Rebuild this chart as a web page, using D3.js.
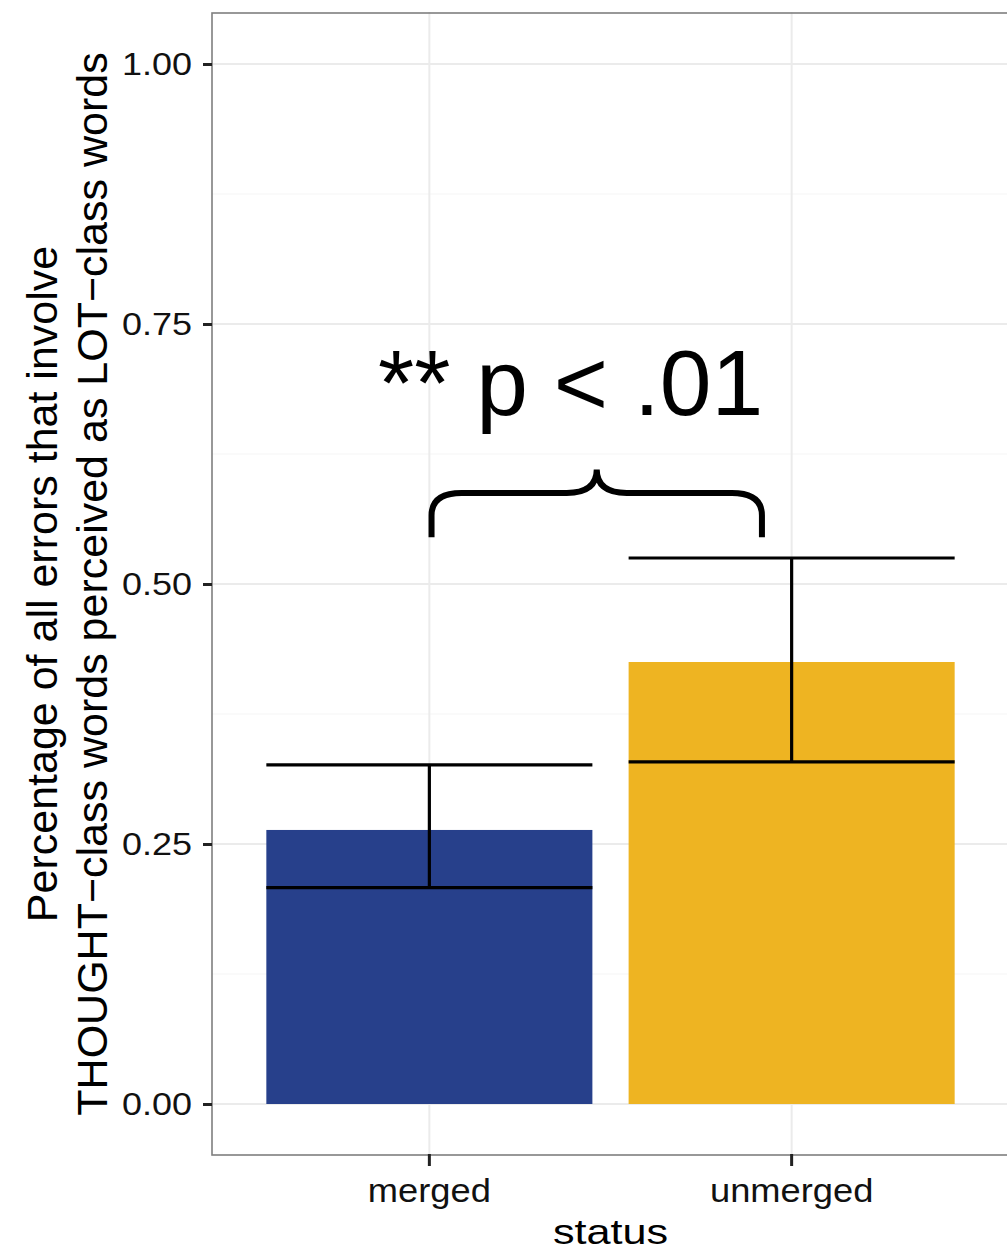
<!DOCTYPE html>
<html lang="en">
  <head>
    <meta charset="utf-8" />
    <title>THOUGHT-LOT errors by status</title>
    <script type="text/javascript" src="https://d3js.org/d3.v7.min.js"></script>
    <style>
      body { margin: 0; background: #fff; }
      text { font-family: "Liberation Sans", Arial, Helvetica, sans-serif; }
    </style>
  </head>
  <body>
    <div id="graph"></div>

    <script type="text/javascript">
      /********************************
       * data
       ********************************/

      const categories = ["merged", "unmerged"];
      const means = [0.2635, 0.425];
      const lower = [0.208, 0.329];
      const upper = [0.326, 0.525];
      const barColors = ["#27408B", "#EEB422"];
      const yTicks = [0, 0.25, 0.5, 0.75, 1];
      const yMinor = [0.125, 0.375, 0.625, 0.875];

      const data = categories.map((c, i) => ({
        status: c,
        mean: means[i],
        lo: lower[i],
        hi: upper[i],
        color: barColors[i],
      }));

      /***************************
       * create svg
       **************************/

      const width = 1007;
      const height = 1252;
      const panel = { left: 212, right: 1009, top: 12, bottom: 1156 };

      const svg = d3
        .select("div#graph")
        .append("svg")
        .attr("width", width)
        .attr("height", height);

      /****************************
       * scales
       *************************/

      const xScale = d3
        .scaleBand()
        .domain(categories)
        .range([panel.left, panel.right])
        .paddingInner(0.1)
        .paddingOuter(0.15);

      // continuous helper on the same axis (ggplot style positions 1, 2)
      const xPos = d3
        .scaleLinear()
        .domain([0.4, 2.6])
        .range([panel.left, panel.right]);

      const yScale = d3
        .scaleLinear()
        .domain([-0.05, 1.05])
        .range([panel.bottom, panel.top]);

      const xMid = (d) => xScale(d) + xScale.bandwidth() / 2;

      /*******************************
       * grid
       *******************************/

      const grid = svg.append("g");

      grid
        .selectAll("line.minor")
        .data(yMinor)
        .enter()
        .append("line")
        .attr("class", "minor")
        .attr("x1", panel.left)
        .attr("x2", panel.right)
        .attr("y1", (d) => yScale(d))
        .attr("y2", (d) => yScale(d))
        .attr("stroke", "#f5f5f5")
        .attr("stroke-width", 1.2);

      grid
        .selectAll("line.major")
        .data(yTicks)
        .enter()
        .append("line")
        .attr("class", "major")
        .attr("x1", panel.left)
        .attr("x2", panel.right)
        .attr("y1", (d) => yScale(d))
        .attr("y2", (d) => yScale(d))
        .attr("stroke", "#ebebeb")
        .attr("stroke-width", 2);

      grid
        .selectAll("line.vmajor")
        .data(categories)
        .enter()
        .append("line")
        .attr("class", "vmajor")
        .attr("x1", xMid)
        .attr("x2", xMid)
        .attr("y1", panel.top)
        .attr("y2", panel.bottom)
        .attr("stroke", "#ebebeb")
        .attr("stroke-width", 2);

      /*******************************
       * bars + error bars
       *******************************/

      svg
        .selectAll("rect.bar")
        .data(data)
        .enter()
        .append("rect")
        .attr("class", "bar")
        .attr("x", (d) => xScale(d.status))
        .attr("width", xScale.bandwidth())
        .attr("y", (d) => yScale(d.mean))
        .attr("height", (d) => yScale(0) - yScale(d.mean))
        .attr("fill", (d) => d.color);

      const eb = svg
        .selectAll("g.errorbar")
        .data(data)
        .enter()
        .append("g")
        .attr("class", "errorbar")
        .attr("stroke", "#000")
        .attr("stroke-width", 3.2);

      eb.append("line")
        .attr("x1", (d) => xMid(d.status))
        .attr("x2", (d) => xMid(d.status))
        .attr("y1", (d) => yScale(d.lo))
        .attr("y2", (d) => yScale(d.hi));

      eb.selectAll("line.cap")
        .data((d) => [
          { s: d.status, v: d.lo },
          { s: d.status, v: d.hi },
        ])
        .enter()
        .append("line")
        .attr("class", "cap")
        .attr("x1", (d) => xScale(d.s))
        .attr("x2", (d) => xScale(d.s) + xScale.bandwidth())
        .attr("y1", (d) => yScale(d.v))
        .attr("y2", (d) => yScale(d.v));

      /*******************************
       * panel border
       *******************************/

      svg
        .append("rect")
        .attr("x", panel.left)
        .attr("y", panel.top + 1)
        .attr("width", panel.right - panel.left)
        .attr("height", panel.bottom - panel.top - 2)
        .attr("fill", "none")
        .attr("stroke", "#7f7f7f")
        .attr("stroke-width", 1.6);

      /*********************************
       * axes
       *******************************/

      const yAxis = d3
        .axisLeft(yScale)
        .tickValues(yTicks)
        .tickFormat(d3.format(".2f"))
        .tickSize(9);

      const yAxisGroup = svg
        .append("g")
        .attr("transform", `translate(${panel.left},0)`)
        .call(yAxis);

      yAxisGroup.select(".domain").remove();
      yAxisGroup.selectAll(".tick line").attr("stroke", "#222").attr("stroke-width", 3);
      yAxisGroup
        .selectAll(".tick text")
        .attr("x", null)
        .attr("dy", "0.36em")
        .attr("transform", "translate(-20,0) scale(1.18,1)")
        .attr("font-size", 30.5)
        .attr("font-family", null)
        .attr("fill", "#111");

      const xAxis = d3.axisBottom(xScale).tickSize(12);

      const xAxisGroup = svg
        .append("g")
        .attr("transform", `translate(0,${panel.bottom - 2})`)
        .call(xAxis);

      xAxisGroup.select(".domain").remove();
      xAxisGroup.selectAll(".tick line").attr("stroke", "#222").attr("stroke-width", 3);
      xAxisGroup
        .selectAll(".tick text")
        .attr("y", null)
        .attr("dy", null)
        .attr("transform", "translate(0,48) scale(1.1,1)")
        .attr("font-size", 33)
        .attr("font-family", null)
        .attr("fill", "#111");

      // axis titles
      svg
        .append("text")
        .attr("transform", `translate(${(panel.left + panel.right) / 2},1244) scale(1.2,1)`)
        .attr("text-anchor", "middle")
        .attr("font-size", 36)
        .attr("fill", "#000")
        .text("status");

      const yTitle = svg
        .append("text")
        .attr("transform", `translate(0,${(panel.top + panel.bottom) / 2}) rotate(-90)`)
        .attr("text-anchor", "middle")
        .attr("font-size", 43)
        .attr("fill", "#000");

      yTitle.append("tspan").attr("x", 0).attr("y", 57).text("Percentage of all errors that involve");
      yTitle
        .append("tspan")
        .attr("x", 0)
        .attr("y", 107)
        .text("THOUGHT\u2212class words perceived as LOT\u2212class words");

      /*********************************
       * significance annotation
       * ******************************/

      const brace = { x0: 1.006, x1: 1.918, tip: 0.545, top: 0.5875, peak: 0.61 };
      const bx0 = xPos(brace.x0);
      const bx1 = xPos(brace.x1);
      const bm = (bx0 + bx1) / 2;
      const yTip = yScale(brace.tip);
      const yTop = yScale(brace.top);
      const yPeak = yScale(brace.peak);
      const r = 30;

      const bracePath = d3.path();
      bracePath.moveTo(bx0, yTip);
      bracePath.lineTo(bx0, yTop + r * 0.75);
      bracePath.quadraticCurveTo(bx0, yTop, bx0 + r, yTop);
      bracePath.lineTo(bm - r, yTop);
      bracePath.quadraticCurveTo(bm, yTop, bm, yPeak);
      bracePath.quadraticCurveTo(bm, yTop, bm + r, yTop);
      bracePath.lineTo(bx1 - r, yTop);
      bracePath.quadraticCurveTo(bx1, yTop, bx1, yTop + r * 0.75);
      bracePath.lineTo(bx1, yTip);

      svg
        .append("path")
        .attr("d", bracePath.toString())
        .attr("fill", "none")
        .attr("stroke", "#000")
        .attr("stroke-width", 6);

      svg
        .append("text")
        .attr("x", xPos(1.39))
        .attr("y", yScale(0.6625))
        .attr("text-anchor", "middle")
        .attr("font-size", 93)
        .attr("fill", "#000")
        .text("** p < .01");
    </script>
  </body>
</html>
